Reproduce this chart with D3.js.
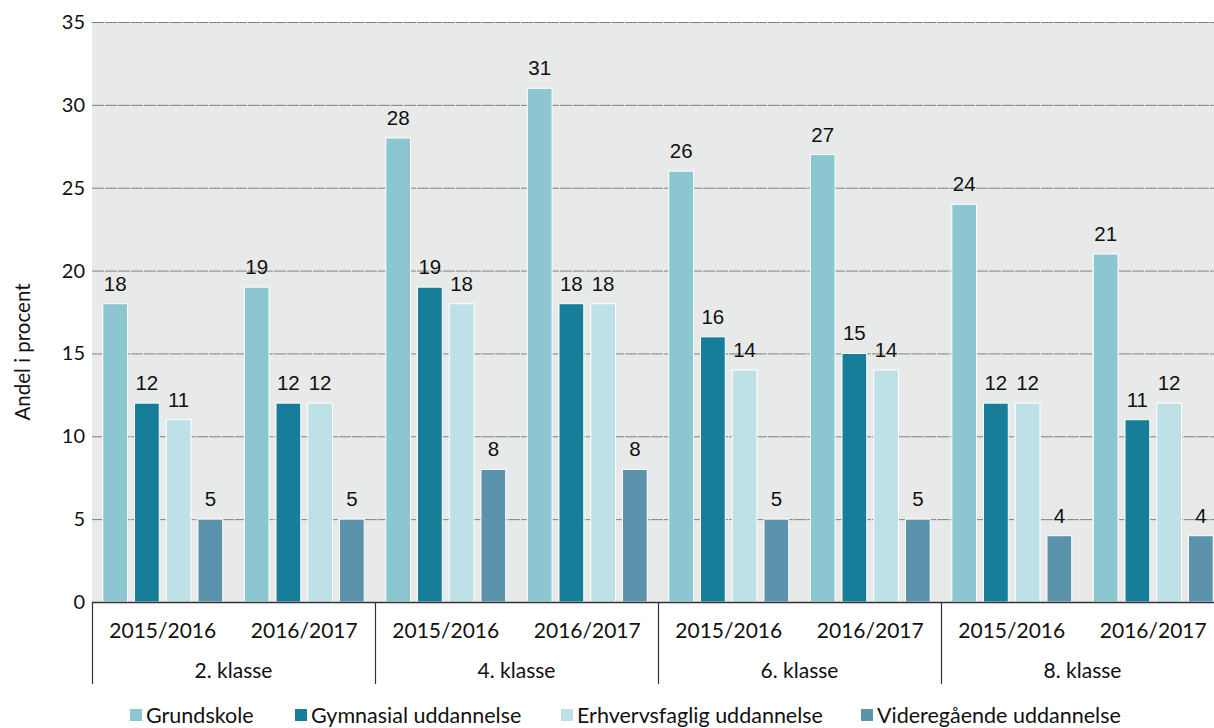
<!DOCTYPE html>
<html>
<head>
<meta charset="utf-8">
<script src="https://cdn.jsdelivr.net/npm/d3@7"></script>
<style>
  body { margin: 0; background: #fff; }
  svg { display: block; }
  .tick-label { font-family: Lato, sans-serif; font-size: 20px; fill: #111; }
  .axis-label { font-family: Lato, sans-serif; font-size: 21px; fill: #111; }
  .y-title { font-family: Lato, sans-serif; font-size: 20.5px; fill: #111; }
  .bar-label { font-family: "Liberation Sans", Arial, sans-serif; font-size: 20.5px; fill: #111; }
  .legend-label { font-family: Lato, sans-serif; font-size: 21.5px; fill: #111; }
</style>
</head>
<body>
<div id="chart"></div>
<script>
// data
var classes = ["2. klasse", "4. klasse", "6. klasse", "8. klasse"];
var years = ["2015/2016", "2016/2017"];
var seriesNames = ["Grundskole", "Gymnasial uddannelse", "Erhvervsfaglig uddannelse", "Videregående uddannelse"];
var seriesColors = ["#8cc7d1", "#177e99", "#bee0e7", "#5b93ad"];
var grundskole = [18, 19, 28, 31, 26, 27, 24, 21];
var gymnasial = [12, 12, 19, 18, 16, 15, 12, 11];
var erhverv = [11, 12, 18, 18, 14, 14, 12, 12];
var videre = [5, 5, 8, 8, 5, 5, 4, 4];
var yTicks = [0, 5, 10, 15, 20, 25, 30, 35];

var allSeries = [grundskole, gymnasial, erhverv, videre];

var width = 1214, height = 728;
var margin = { top: 22, left: 92 };
var plotRight = 1224, plotBottom = 602;

var svg = d3.select("#chart").append("svg")
    .attr("width", width)
    .attr("height", height);

// one entry per class/year pair
var groups = [];
classes.forEach(function(c, ci) {
    years.forEach(function(y, yi) {
        groups.push({ key: c + "|" + y, cls: c, year: y, idx: ci * years.length + yi });
    });
});

var x0 = d3.scaleBand()
    .domain(groups.map(function(g) { return g.key; }))
    .range([margin.left, plotRight])
    .padding(0);

var x1 = d3.scaleBand()
    .domain(seriesNames)
    .range([0, x0.bandwidth()])
    .paddingInner(0.22)
    .paddingOuter(0.34);

var y = d3.scaleLinear()
    .domain([0, 35])
    .range([plotBottom, margin.top]);

// background
svg.append("rect")
    .attr("x", margin.left)
    .attr("y", margin.top)
    .attr("width", plotRight - margin.left)
    .attr("height", plotBottom - margin.top)
    .attr("fill", "#e8eaea");

// gridlines
svg.selectAll(".grid")
    .data(yTicks.filter(function(t) { return t > 0; }))
    .enter().append("line")
    .attr("class", "grid")
    .attr("x1", margin.left)
    .attr("x2", plotRight)
    .attr("y1", function(d) { return y(d) + 0.5; })
    .attr("y2", function(d) { return y(d) + 0.5; })
    .attr("stroke", "#7f7f7f")
    .attr("stroke-width", 1)
    .attr("stroke-dasharray", "12,1");

// y tick labels
svg.selectAll(".tick-label")
    .data(yTicks)
    .enter().append("text")
    .attr("class", "tick-label")
    .attr("x", 85)
    .attr("y", function(d) { return y(d); })
    .attr("dy", "0.35em")
    .attr("text-anchor", "end")
    .text(function(d) { return d; });

// y title
svg.append("text")
    .attr("class", "y-title")
    .attr("transform", "translate(30," + ((margin.top + plotBottom) / 2 + 40) + ") rotate(-90)")
    .attr("text-anchor", "middle")
    .text("Andel i procent");

// bars
var bars = [];
groups.forEach(function(g) {
    seriesNames.forEach(function(s, si) {
        bars.push({ group: g, series: s, color: seriesColors[si], value: allSeries[si][g.idx] });
    });
});

svg.selectAll(".bar")
    .data(bars)
    .enter().append("rect")
    .attr("class", "bar")
    .attr("x", function(d) { return x0(d.group.key) + x1(d.series); })
    .attr("y", function(d) { return y(d.value); })
    .attr("width", x1.bandwidth())
    .attr("height", function(d) { return plotBottom - y(d.value); })
    .attr("fill", function(d) { return d.color; })
    .attr("stroke", "#fff")
    .attr("stroke-width", 1);

svg.selectAll(".bar-label")
    .data(bars)
    .enter().append("text")
    .attr("class", "bar-label")
    .attr("x", function(d) { return x0(d.group.key) + x1(d.series) + x1.bandwidth() / 2; })
    .attr("y", function(d) { return y(d.value) - 13; })
    .attr("text-anchor", "middle")
    .text(function(d) { return d.value; });

// x axis line
svg.append("line")
    .attr("x1", margin.left)
    .attr("x2", plotRight)
    .attr("y1", plotBottom + 0.5)
    .attr("y2", plotBottom + 0.5)
    .attr("stroke", "#333")
    .attr("stroke-width", 1.5);

// class separators
var classWidth = x0.bandwidth() * years.length;
d3.range(classes.length + 1).forEach(function(i) {
    var xx = Math.round(margin.left + i * classWidth) + 0.5;
    svg.append("line")
        .attr("x1", xx).attr("x2", xx)
        .attr("y1", plotBottom).attr("y2", 684)
        .attr("stroke", "#333")
        .attr("stroke-width", 1.2);
});

// year labels
svg.selectAll(".year-label")
    .data(groups)
    .enter().append("text")
    .attr("class", "axis-label")
    .attr("x", function(d) { return x0(d.key) + x0.bandwidth() / 2; })
    .attr("y", 638)
    .attr("text-anchor", "middle")
    .text(function(d) { return d.year; });

// class labels
svg.selectAll(".class-label")
    .data(classes)
    .enter().append("text")
    .attr("class", "axis-label")
    .attr("x", function(d, i) { return margin.left + (i + 0.5) * classWidth; })
    .attr("y", 678)
    .attr("text-anchor", "middle")
    .text(function(d) { return d; });

// legend
var legendX = [130, 295, 561, 861];
var legend = svg.selectAll(".legend")
    .data(seriesNames)
    .enter().append("g")
    .attr("class", "legend")
    .attr("transform", function(d, i) { return "translate(" + legendX[i] + ",709)"; });

legend.append("rect")
    .attr("width", 12)
    .attr("height", 12)
    .attr("fill", function(d, i) { return seriesColors[i]; });

legend.append("text")
    .attr("class", "legend-label")
    .attr("x", 16)
    .attr("y", 6)
    .attr("dy", "0.35em")
    .text(function(d) { return d; });
</script>
</body>
</html>
